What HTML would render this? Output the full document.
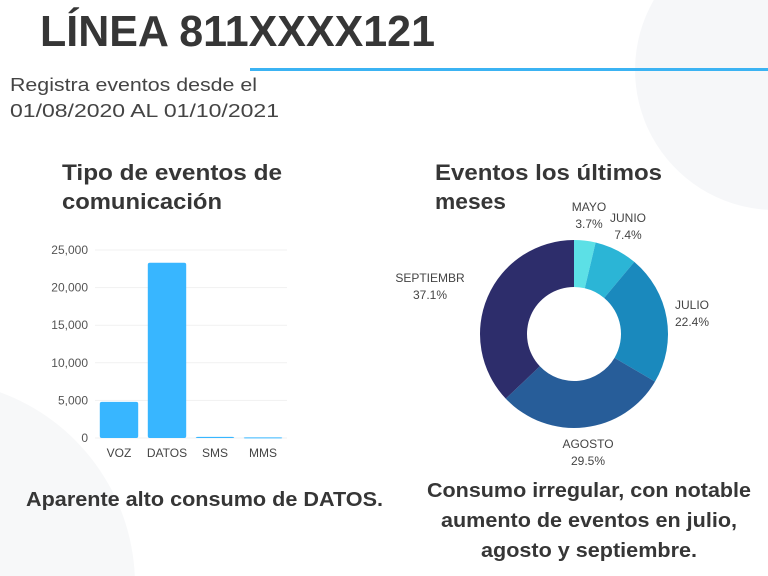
<!DOCTYPE html>
<html><head><meta charset="utf-8"><style>
html,body{margin:0;padding:0;background:#fff;width:768px;height:576px;overflow:hidden;}
svg{display:block;font-family:"Liberation Sans",sans-serif;}
</style></head><body>
<svg id="page" width="768" height="576" viewBox="0 0 768 576" xmlns="http://www.w3.org/2000/svg">
  <path d="M653.8,0 A140,140 0 0 0 768,209.8 L768,0 Z" fill="#f6f7f9"/>
  <path d="M0,392.3 A205,205 0 0 1 134.8,576 L0,576 Z" fill="#f7f8f9"/>
  <text x="40" y="46" font-size="44" font-weight="bold" fill="#363636" textLength="395" lengthAdjust="spacingAndGlyphs">LÍNEA 811XXXX121</text>
  <rect x="250" y="68" width="518" height="3" fill="#3bb3f3"/>
  <text x="10" y="91" font-size="18" fill="#444" textLength="247" lengthAdjust="spacingAndGlyphs">Registra eventos desde el</text>
  <text x="10" y="117" font-size="18" fill="#444" textLength="269" lengthAdjust="spacingAndGlyphs">01/08/2020 AL 01/10/2021</text>

  <text x="62" y="180" font-size="22" font-weight="bold" fill="#363636" textLength="220" lengthAdjust="spacingAndGlyphs">Tipo de eventos de</text>
  <text x="62" y="209" font-size="22" font-weight="bold" fill="#363636" textLength="160" lengthAdjust="spacingAndGlyphs">comunicación</text>
  <text x="435" y="180" font-size="22" font-weight="bold" fill="#363636" textLength="227" lengthAdjust="spacingAndGlyphs">Eventos los últimos</text>
  <text x="435" y="209" font-size="22" font-weight="bold" fill="#363636" textLength="71" lengthAdjust="spacingAndGlyphs">meses</text>

  <g id="bar-chart"></g>
  <g id="donut-chart"></g>

  <text x="26" y="506" font-size="20" font-weight="bold" fill="#363636" textLength="357" lengthAdjust="spacingAndGlyphs">Aparente alto consumo de DATOS.</text>
  <text x="427" y="497" font-size="20" font-weight="bold" fill="#363636" textLength="324" lengthAdjust="spacingAndGlyphs">Consumo irregular, con notable</text>
  <text x="441" y="527" font-size="20" font-weight="bold" fill="#363636" textLength="296" lengthAdjust="spacingAndGlyphs">aumento de eventos en julio,</text>
  <text x="481" y="557" font-size="20" font-weight="bold" fill="#363636" textLength="216" lengthAdjust="spacingAndGlyphs">agosto y septiembre.</text>
</svg>
<script>
const barCategories = ["VOZ","DATOS","SMS","MMS"];
const barValues = [4800, 23300, 150, 80];
const yTicks = [0, 5000, 10000, 15000, 20000, 25000];
const yTickLabels = ["0","5,000","10,000","15,000","20,000","25,000"];

const donutLabels = ["MAYO","JUNIO","JULIO","AGOSTO","SEPTIEMBR"];
const donutValues = [3.7, 7.4, 22.4, 29.5, 37.1];
const donutPctLabels = ["3.7%","7.4%","22.4%","29.5%","37.1%"];
const donutColors = ["#5ce0e6","#2bb5d6","#1a89bd","#275d99","#2d2d6b"];

const NS = "http://www.w3.org/2000/svg";
function mk(tag, attrs, parent){ const e=document.createElementNS(NS,tag); for(const k in attrs) e.setAttribute(k,attrs[k]); parent.appendChild(e); return e; }

// Bar chart
const bg = document.getElementById("bar-chart");
const plotL = 95, plotR = 287, y0 = 438, yTop = 250, yMax = 25000;
const yScale = v => y0 - (v / yMax) * (y0 - yTop);
const band = (plotR - plotL) / barCategories.length;
const xScale = i => plotL + i * band;
yTicks.forEach((t, i) => {
  const gl = mk("line", {x1:plotL, x2:plotR, y1:yScale(t), y2:yScale(t), stroke:"#f1f1f1", "stroke-width":1}, bg);
  
  
  const tl = mk("text", {x:88, y:yScale(t)+4, "text-anchor":"end", "font-size":12, fill:"#555"}, bg);
  tl.textContent = yTickLabels[i];
  
  
});
barCategories.forEach((c, i) => {
  const bw = band * 0.8, x = xScale(i) + (band - bw) / 2;
  const top = yScale(barValues[i]);
  const r = mk("rect", {x:x, y:top, width:bw, height:Math.max(1, y0 - top), rx:2, fill:"#38b6ff"}, bg);
  
  
  const tl = mk("text", {x:x + bw/2, y:457, "text-anchor":"middle", "font-size":12, fill:"#444"}, bg);
  tl.textContent = c;
  
  
});

// Donut
const dg = document.getElementById("donut-chart");
const cx = 574, cy = 334, R = 94, r0 = 47;
const total = donutValues.reduce((a,b)=>a+b,0);
let ang = 0;
const pt = (a, rad) => [cx + rad*Math.sin(a), cy - rad*Math.cos(a)];
const labelPos = [[589,211],[628,222],[692,309],[588,448],[430,282]];
donutValues.forEach((v, i) => {
  const a0 = ang, a1 = ang + v/total*2*Math.PI; ang = a1;
  const large = (a1 - a0) > Math.PI ? 1 : 0;
  const [x0,y0o] = pt(a0,R), [x1,y1o] = pt(a1,R), [x2,y2i] = pt(a1,r0), [x3,y3i] = pt(a0,r0);
  const d = `M${x0},${y0o} A${R},${R} 0 ${large} 1 ${x1},${y1o} L${x2},${y2i} A${r0},${r0} 0 ${large} 0 ${x3},${y3i} Z`;
  const p = mk("path", {d:d, fill:donutColors[i]}, dg);
  
  
  const [lx, ly] = labelPos[i];
  const t1 = mk("text", {x:lx, y:ly, "text-anchor":"middle", "font-size":12, fill:"#444"}, dg);
  t1.textContent = donutLabels[i];
  
  
  const t2 = mk("text", {x:lx, y:ly+17, "text-anchor":"middle", "font-size":12, fill:"#444"}, dg);
  t2.textContent = donutPctLabels[i];
  
  
});
</script>
</body></html>
